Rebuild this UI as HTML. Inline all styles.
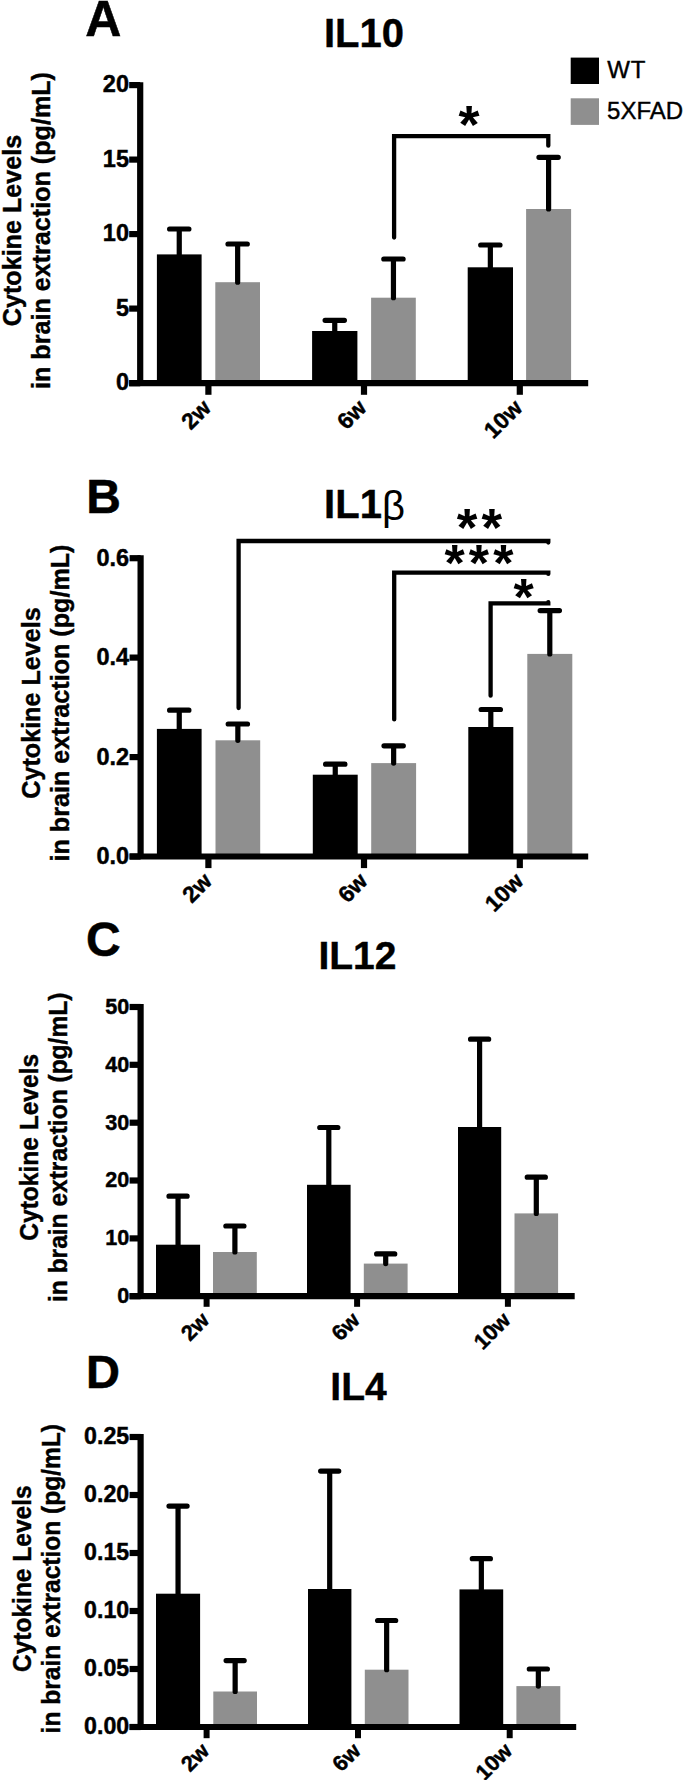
<!DOCTYPE html>
<html><head><meta charset="utf-8"><title>Cytokine levels</title>
<style>html,body{margin:0;padding:0;background:#fff}svg{display:block}text{font-family:"Liberation Sans",sans-serif;fill:#000}</style>
</head><body>
<svg width="685" height="1780" viewBox="0 0 685 1780">
<rect width="685" height="1780" fill="#fff"/>
<text x="85.2" y="36.4" font-size="50" font-weight="bold" stroke="#000" stroke-width="0.5">A</text>
<text x="364" y="46.7" font-size="40" font-weight="bold" text-anchor="middle" stroke="#000" stroke-width="0.4">IL10</text>
<text transform="translate(20.7,230.5) rotate(-90) scale(0.986,1)" font-size="25.50" font-weight="bold" text-anchor="middle" stroke="#000" stroke-width="0.4">Cytokine Levels</text>
<text transform="translate(50.4,230.5) rotate(-90) scale(0.986,1)" font-size="25.50" font-weight="bold" text-anchor="middle" stroke="#000" stroke-width="0.4">in brain extraction (pg/mL)</text>
<rect x="156.9" y="254.4" width="44.70" height="128.80" fill="#000"/>
<path d="M179.25 254.4 V229.0 M169.60 229.0 H188.90" stroke="#000" stroke-width="5.2" stroke-linecap="round" fill="none"/>
<rect x="215.3" y="282.2" width="44.70" height="101.00" fill="#8f8f8f"/>
<path d="M237.65 282.2 V244.0 M228.00 244.0 H247.30" stroke="#000" stroke-width="5.2" stroke-linecap="round" fill="none"/>
<rect x="312.1" y="331.0" width="45.30" height="52.20" fill="#000"/>
<path d="M334.75 331.0 V320.3 M325.10 320.3 H344.40" stroke="#000" stroke-width="5.2" stroke-linecap="round" fill="none"/>
<rect x="371.1" y="297.7" width="44.70" height="85.50" fill="#8f8f8f"/>
<path d="M393.45 297.7 V259.0 M383.80 259.0 H403.10" stroke="#000" stroke-width="5.2" stroke-linecap="round" fill="none"/>
<rect x="467.7" y="267.3" width="45.30" height="115.90" fill="#000"/>
<path d="M490.35 267.3 V245.0 M480.70 245.0 H500.00" stroke="#000" stroke-width="5.2" stroke-linecap="round" fill="none"/>
<rect x="526.1" y="209.0" width="45.00" height="174.20" fill="#8f8f8f"/>
<path d="M548.60 209.0 V157.3 M538.95 157.3 H558.25" stroke="#000" stroke-width="5.2" stroke-linecap="round" fill="none"/>
<path d="M140.2 82.19999999999999 V383.2" stroke="#000" stroke-width="6.2" fill="none"/>
<path d="M129.2 383.2 H588.2" stroke="#000" stroke-width="6.2" fill="none"/>
<path d="M129.2 85.1 H140.2" stroke="#000" stroke-width="6.2" fill="none"/>
<text x="129.0" y="92.1" font-size="23.5" font-weight="bold" text-anchor="end" stroke="#000" stroke-width="0.45">20</text>
<path d="M129.2 159.6 H140.2" stroke="#000" stroke-width="6.2" fill="none"/>
<text x="129.0" y="166.6" font-size="23.5" font-weight="bold" text-anchor="end" stroke="#000" stroke-width="0.45">15</text>
<path d="M129.2 234.1 H140.2" stroke="#000" stroke-width="6.2" fill="none"/>
<text x="129.0" y="241.1" font-size="23.5" font-weight="bold" text-anchor="end" stroke="#000" stroke-width="0.45">10</text>
<path d="M129.2 308.6 H140.2" stroke="#000" stroke-width="6.2" fill="none"/>
<text x="129.0" y="315.6" font-size="23.5" font-weight="bold" text-anchor="end" stroke="#000" stroke-width="0.45">5</text>
<path d="M129.2 383.2 H140.2" stroke="#000" stroke-width="6.2" fill="none"/>
<text x="129.0" y="390.2" font-size="23.5" font-weight="bold" text-anchor="end" stroke="#000" stroke-width="0.45">0</text>
<path d="M208.4 383.2 V394.8" stroke="#000" stroke-width="6.2" fill="none"/>
<text transform="translate(212.3,409.2) rotate(-45)" font-size="22.8" font-weight="bold" text-anchor="end" stroke="#000" stroke-width="0.45">2w</text>
<path d="M364.0 383.2 V394.8" stroke="#000" stroke-width="6.2" fill="none"/>
<text transform="translate(367.9,409.2) rotate(-45)" font-size="22.8" font-weight="bold" text-anchor="end" stroke="#000" stroke-width="0.45">6w</text>
<path d="M519.8 383.2 V394.8" stroke="#000" stroke-width="6.2" fill="none"/>
<text transform="translate(523.7,409.2) rotate(-45)" font-size="22.8" font-weight="bold" text-anchor="end" stroke="#000" stroke-width="0.45">10w</text>
<path d="M394.1 237.6 V136.2 H548.3 V145.7" stroke="#000" stroke-width="4.3" stroke-linecap="round" stroke-linejoin="miter" fill="none"/>
<text x="469.1" y="142.9" font-size="54" font-weight="bold" text-anchor="middle">*</text>
<rect x="570.7" y="57.6" width="28.3" height="26.4" fill="#000"/>
<rect x="570.7" y="98.3" width="28.3" height="26.6" fill="#8f8f8f"/>
<text x="607.2" y="77.7" font-size="24" letter-spacing="1" stroke="#000" stroke-width="0.4">WT</text>
<text x="607.1" y="119.4" font-size="24" stroke="#000" stroke-width="0.4">5XFAD</text>
<text x="86.2" y="512.9" font-size="48" font-weight="bold" stroke="#000" stroke-width="0.5">B</text>
<text x="364.5" y="518.2" font-size="40" font-weight="bold" text-anchor="middle" stroke="#000" stroke-width="0.4">IL1<tspan font-weight="normal" stroke="none" dy="2">β</tspan></text>
<text transform="translate(39.5,703) rotate(-90) scale(0.986,1)" font-size="25.50" font-weight="bold" text-anchor="middle" stroke="#000" stroke-width="0.4">Cytokine Levels</text>
<text transform="translate(68.8,703) rotate(-90) scale(0.986,1)" font-size="25.50" font-weight="bold" text-anchor="middle" stroke="#000" stroke-width="0.4">in brain extraction (pg/mL)</text>
<rect x="156.9" y="728.9" width="44.70" height="127.60" fill="#000"/>
<path d="M179.25 728.9 V710.2 M169.60 710.2 H188.90" stroke="#000" stroke-width="5.2" stroke-linecap="round" fill="none"/>
<rect x="215.5" y="740.3" width="44.70" height="116.20" fill="#8f8f8f"/>
<path d="M237.85 740.3 V724.0 M228.20 724.0 H247.50" stroke="#000" stroke-width="5.2" stroke-linecap="round" fill="none"/>
<rect x="312.8" y="774.7" width="44.90" height="81.80" fill="#000"/>
<path d="M335.25 774.7 V764.2 M325.60 764.2 H344.90" stroke="#000" stroke-width="5.2" stroke-linecap="round" fill="none"/>
<rect x="371.2" y="763.1" width="44.90" height="93.40" fill="#8f8f8f"/>
<path d="M393.65 763.1 V745.8 M384.00 745.8 H403.30" stroke="#000" stroke-width="5.2" stroke-linecap="round" fill="none"/>
<rect x="468.3" y="727.0" width="45.00" height="129.50" fill="#000"/>
<path d="M490.80 727.0 V709.5 M481.15 709.5 H500.45" stroke="#000" stroke-width="5.2" stroke-linecap="round" fill="none"/>
<rect x="527.3" y="653.9" width="45.00" height="202.60" fill="#8f8f8f"/>
<path d="M549.80 653.9 V610.6 M540.15 610.6 H559.45" stroke="#000" stroke-width="5.2" stroke-linecap="round" fill="none"/>
<path d="M140.6 555.3000000000001 V856.5" stroke="#000" stroke-width="6.2" fill="none"/>
<path d="M129.6 856.5 H588.2" stroke="#000" stroke-width="6.2" fill="none"/>
<path d="M129.6 558.2 H140.6" stroke="#000" stroke-width="6.2" fill="none"/>
<text x="129.1" y="565.6" font-size="23.5" font-weight="bold" text-anchor="end" stroke="#000" stroke-width="0.45">0.6</text>
<path d="M129.6 657.6 H140.6" stroke="#000" stroke-width="6.2" fill="none"/>
<text x="129.1" y="665.0" font-size="23.5" font-weight="bold" text-anchor="end" stroke="#000" stroke-width="0.45">0.4</text>
<path d="M129.6 757.1 H140.6" stroke="#000" stroke-width="6.2" fill="none"/>
<text x="129.1" y="764.5" font-size="23.5" font-weight="bold" text-anchor="end" stroke="#000" stroke-width="0.45">0.2</text>
<path d="M129.6 856.5 H140.6" stroke="#000" stroke-width="6.2" fill="none"/>
<text x="129.1" y="863.9" font-size="23.5" font-weight="bold" text-anchor="end" stroke="#000" stroke-width="0.45">0.0</text>
<path d="M208.4 856.5 V868.1" stroke="#000" stroke-width="6.2" fill="none"/>
<text transform="translate(213.3,882.5) rotate(-45)" font-size="22.8" font-weight="bold" text-anchor="end" stroke="#000" stroke-width="0.45">2w</text>
<path d="M364.0 856.5 V868.1" stroke="#000" stroke-width="6.2" fill="none"/>
<text transform="translate(368.9,882.5) rotate(-45)" font-size="22.8" font-weight="bold" text-anchor="end" stroke="#000" stroke-width="0.45">6w</text>
<path d="M519.8 856.5 V868.1" stroke="#000" stroke-width="6.2" fill="none"/>
<text transform="translate(524.7,882.5) rotate(-45)" font-size="22.8" font-weight="bold" text-anchor="end" stroke="#000" stroke-width="0.45">10w</text>
<path d="M238.6 708.1 V541.0 H548.3 V542.6" stroke="#000" stroke-width="4.3" stroke-linecap="round" stroke-linejoin="miter" fill="none"/>
<path d="M394.2 719.4 V572.7 H548.3 V573.9" stroke="#000" stroke-width="4.3" stroke-linecap="round" stroke-linejoin="miter" fill="none"/>
<path d="M490.6 695.7 V603.3 H548.3 V602.1" stroke="#000" stroke-width="4.3" stroke-linecap="round" stroke-linejoin="miter" fill="none"/>
<text x="456.7" y="545.7" font-size="53" font-weight="bold" letter-spacing="4.2">**</text>
<text x="444.5" y="581.2" font-size="52" font-weight="bold" letter-spacing="4.1">***</text>
<text x="523.5" y="614.5" font-size="52" font-weight="bold" text-anchor="middle">*</text>
<text x="86" y="955.5" font-size="48" font-weight="bold" stroke="#000" stroke-width="0.5">C</text>
<text x="357.4" y="969.3" font-size="39" font-weight="bold" text-anchor="middle" stroke="#000" stroke-width="0.4">IL12</text>
<text transform="translate(37.6,1147.3) rotate(-90) scale(0.986,1)" font-size="24.89" font-weight="bold" text-anchor="middle" stroke="#000" stroke-width="0.4">Cytokine Levels</text>
<text transform="translate(66.8,1147.3) rotate(-90) scale(0.986,1)" font-size="24.89" font-weight="bold" text-anchor="middle" stroke="#000" stroke-width="0.4">in brain extraction (pg/mL)</text>
<rect x="156.0" y="1244.7" width="44.10" height="51.50" fill="#000"/>
<path d="M178.05 1244.7 V1196.2 M169.00 1196.2 H187.10" stroke="#000" stroke-width="5.2" stroke-linecap="round" fill="none"/>
<rect x="213.0" y="1252.0" width="43.80" height="44.20" fill="#8f8f8f"/>
<path d="M234.90 1252.0 V1226.0 M225.85 1226.0 H243.95" stroke="#000" stroke-width="5.2" stroke-linecap="round" fill="none"/>
<rect x="307.0" y="1184.8" width="43.60" height="111.40" fill="#000"/>
<path d="M328.80 1184.8 V1127.5 M319.75 1127.5 H337.85" stroke="#000" stroke-width="5.2" stroke-linecap="round" fill="none"/>
<rect x="363.8" y="1263.6" width="43.80" height="32.60" fill="#8f8f8f"/>
<path d="M385.70 1263.6 V1253.9 M376.65 1253.9 H394.75" stroke="#000" stroke-width="5.2" stroke-linecap="round" fill="none"/>
<rect x="458.0" y="1127.0" width="43.20" height="169.20" fill="#000"/>
<path d="M479.60 1127.0 V1039.2 M470.55 1039.2 H488.65" stroke="#000" stroke-width="5.2" stroke-linecap="round" fill="none"/>
<rect x="514.5" y="1213.4" width="43.60" height="82.80" fill="#8f8f8f"/>
<path d="M536.30 1213.4 V1177.2 M527.25 1177.2 H545.35" stroke="#000" stroke-width="5.2" stroke-linecap="round" fill="none"/>
<path d="M140.6 1004.1 V1296.2" stroke="#000" stroke-width="6.2" fill="none"/>
<path d="M129.6 1296.2 H574.7" stroke="#000" stroke-width="6.2" fill="none"/>
<path d="M129.6 1007.0 H140.6" stroke="#000" stroke-width="6.2" fill="none"/>
<text x="129.2" y="1013.9" font-size="21.6" font-weight="bold" text-anchor="end" stroke="#000" stroke-width="0.45">50</text>
<path d="M129.6 1064.8 H140.6" stroke="#000" stroke-width="6.2" fill="none"/>
<text x="129.2" y="1071.7" font-size="21.6" font-weight="bold" text-anchor="end" stroke="#000" stroke-width="0.45">40</text>
<path d="M129.6 1122.7 H140.6" stroke="#000" stroke-width="6.2" fill="none"/>
<text x="129.2" y="1129.6" font-size="21.6" font-weight="bold" text-anchor="end" stroke="#000" stroke-width="0.45">30</text>
<path d="M129.6 1180.5 H140.6" stroke="#000" stroke-width="6.2" fill="none"/>
<text x="129.2" y="1187.4" font-size="21.6" font-weight="bold" text-anchor="end" stroke="#000" stroke-width="0.45">20</text>
<path d="M129.6 1238.4 H140.6" stroke="#000" stroke-width="6.2" fill="none"/>
<text x="129.2" y="1245.3" font-size="21.6" font-weight="bold" text-anchor="end" stroke="#000" stroke-width="0.45">10</text>
<path d="M129.6 1296.2 H140.6" stroke="#000" stroke-width="6.2" fill="none"/>
<text x="129.2" y="1303.1" font-size="21.6" font-weight="bold" text-anchor="end" stroke="#000" stroke-width="0.45">0</text>
<path d="M206.6 1296.2 V1306.8" stroke="#000" stroke-width="6.0" fill="none"/>
<text transform="translate(210.5,1321.5) rotate(-45)" font-size="21.8" font-weight="bold" text-anchor="end" stroke="#000" stroke-width="0.45">2w</text>
<path d="M357.1 1296.2 V1306.8" stroke="#000" stroke-width="6.0" fill="none"/>
<text transform="translate(361.0,1321.5) rotate(-45)" font-size="21.8" font-weight="bold" text-anchor="end" stroke="#000" stroke-width="0.45">6w</text>
<path d="M507.9 1296.2 V1306.8" stroke="#000" stroke-width="6.0" fill="none"/>
<text transform="translate(511.8,1321.5) rotate(-45)" font-size="21.8" font-weight="bold" text-anchor="end" stroke="#000" stroke-width="0.45">10w</text>
<text x="86" y="1388.0" font-size="47" font-weight="bold" stroke="#000" stroke-width="0.5">D</text>
<text x="358.5" y="1399.8" font-size="39" font-weight="bold" text-anchor="middle" stroke="#000" stroke-width="0.4">IL4</text>
<text transform="translate(30.6,1578.7) rotate(-90) scale(0.986,1)" font-size="24.89" font-weight="bold" text-anchor="middle" stroke="#000" stroke-width="0.4">Cytokine Levels</text>
<text transform="translate(59.6,1578.7) rotate(-90) scale(0.986,1)" font-size="24.89" font-weight="bold" text-anchor="middle" stroke="#000" stroke-width="0.4">in brain extraction (pg/mL)</text>
<rect x="156.0" y="1593.7" width="44.10" height="133.30" fill="#000"/>
<path d="M178.05 1593.7 V1506.1 M169.00 1506.1 H187.10" stroke="#000" stroke-width="5.2" stroke-linecap="round" fill="none"/>
<rect x="213.3" y="1691.5" width="43.70" height="35.50" fill="#8f8f8f"/>
<path d="M235.15 1691.5 V1660.6 M226.10 1660.6 H244.20" stroke="#000" stroke-width="5.2" stroke-linecap="round" fill="none"/>
<rect x="308.0" y="1589.0" width="43.40" height="138.00" fill="#000"/>
<path d="M329.70 1589.0 V1471.1 M320.65 1471.1 H338.75" stroke="#000" stroke-width="5.2" stroke-linecap="round" fill="none"/>
<rect x="364.8" y="1669.7" width="43.70" height="57.30" fill="#8f8f8f"/>
<path d="M386.65 1669.7 V1620.5 M377.60 1620.5 H395.70" stroke="#000" stroke-width="5.2" stroke-linecap="round" fill="none"/>
<rect x="459.5" y="1589.4" width="43.70" height="137.60" fill="#000"/>
<path d="M481.35 1589.4 V1558.7 M472.30 1558.7 H490.40" stroke="#000" stroke-width="5.2" stroke-linecap="round" fill="none"/>
<rect x="516.4" y="1686.1" width="43.90" height="40.90" fill="#8f8f8f"/>
<path d="M538.35 1686.1 V1669.0 M529.30 1669.0 H547.40" stroke="#000" stroke-width="5.2" stroke-linecap="round" fill="none"/>
<path d="M140.6 1434.1 V1727.0" stroke="#000" stroke-width="6.2" fill="none"/>
<path d="M129.6 1727.0 H576.2" stroke="#000" stroke-width="6.2" fill="none"/>
<path d="M129.6 1437.0 H140.6" stroke="#000" stroke-width="6.2" fill="none"/>
<text x="129.2" y="1443.7" font-size="23.2" font-weight="bold" text-anchor="end" stroke="#000" stroke-width="0.45">0.25</text>
<path d="M129.6 1495.0 H140.6" stroke="#000" stroke-width="6.2" fill="none"/>
<text x="129.2" y="1501.7" font-size="23.2" font-weight="bold" text-anchor="end" stroke="#000" stroke-width="0.45">0.20</text>
<path d="M129.6 1553.0 H140.6" stroke="#000" stroke-width="6.2" fill="none"/>
<text x="129.2" y="1559.7" font-size="23.2" font-weight="bold" text-anchor="end" stroke="#000" stroke-width="0.45">0.15</text>
<path d="M129.6 1611.0 H140.6" stroke="#000" stroke-width="6.2" fill="none"/>
<text x="129.2" y="1617.7" font-size="23.2" font-weight="bold" text-anchor="end" stroke="#000" stroke-width="0.45">0.10</text>
<path d="M129.6 1669.0 H140.6" stroke="#000" stroke-width="6.2" fill="none"/>
<text x="129.2" y="1675.7" font-size="23.2" font-weight="bold" text-anchor="end" stroke="#000" stroke-width="0.45">0.05</text>
<path d="M129.6 1727.0 H140.6" stroke="#000" stroke-width="6.2" fill="none"/>
<text x="129.2" y="1733.7" font-size="23.2" font-weight="bold" text-anchor="end" stroke="#000" stroke-width="0.45">0.00</text>
<path d="M206.6 1727.0 V1738.2" stroke="#000" stroke-width="6.0" fill="none"/>
<text transform="translate(210.5,1752.3) rotate(-45)" font-size="21.8" font-weight="bold" text-anchor="end" stroke="#000" stroke-width="0.45">2w</text>
<path d="M358.0 1727.0 V1738.2" stroke="#000" stroke-width="6.0" fill="none"/>
<text transform="translate(361.9,1752.3) rotate(-45)" font-size="21.8" font-weight="bold" text-anchor="end" stroke="#000" stroke-width="0.45">6w</text>
<path d="M509.7 1727.0 V1738.2" stroke="#000" stroke-width="6.0" fill="none"/>
<text transform="translate(513.6,1752.3) rotate(-45)" font-size="21.8" font-weight="bold" text-anchor="end" stroke="#000" stroke-width="0.45">10w</text>
</svg></body></html>
